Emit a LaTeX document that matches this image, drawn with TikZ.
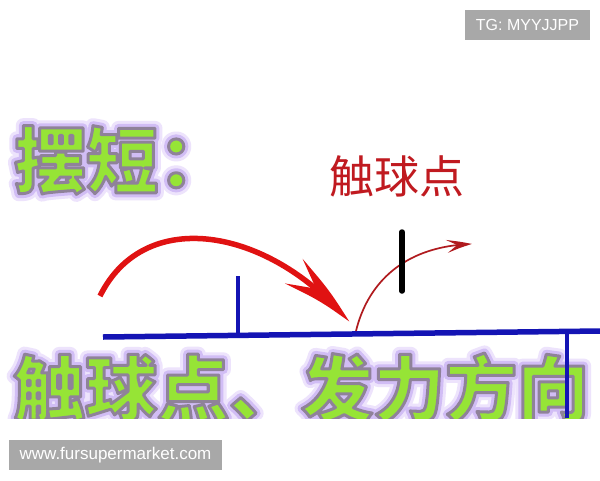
\documentclass[tikz,border=0pt]{standalone}
\usepackage{fontspec}
\setsansfont{Liberation Sans}
\newfontfamily\cjk{Noto Sans CJK SC}
\usetikzlibrary{arrows.meta,bending}
\definecolor{greenc}{HTML}{96E436}
\definecolor{glowc}{HTML}{D2BCF4}
\definecolor{glowout}{HTML}{EEE4FC}
\definecolor{tableblue}{HTML}{1414B4}
\definecolor{arcred}{HTML}{E01212}
\definecolor{thinred}{HTML}{B01A1E}
\definecolor{labelred}{HTML}{C01A20}
\definecolor{wmgray}{HTML}{A8A8A8}
% outlined text via text rendering mode 2 (fill + stroke)
\newcommand\strokedtext[3]{% stroke rgb, width, text
  \special{pdf:code 2 Tr #2 w 1 j #1 RG}#3\special{pdf:code 0 Tr 1 w 0 0 0 RG}}
\newcommand\glowtext[4]{% name, x, y, text
  \node[bigtext, text=glowout] (#1halo) at (#2,#3) {\strokedtext{0.93 0.89 0.99}{15}{#4}};
  \node[bigtext, text=glowc] (#1glow) at (#2,#3) {\strokedtext{0.82 0.74 0.96}{9}{#4}};
  \node[bigtext, text=greenc] (#1) at (#2,#3) {\strokedtext{0.56 0.51 0.60}{3}{#4}};
}
\begin{document}
\begin{tikzpicture}[x=1pt,y=-1pt,
  bigtext/.style={font=\cjk\bfseries\fontsize{72}{72}\selectfont, inner sep=0pt, anchor=west},
  wm/.style={fill=wmgray, text=white, inner sep=0pt},
  tableline/.style={draw=tableblue, line width=5.5pt},
  bigarrow/.style={draw=arcred, line width=5.5pt, -{Stealth[length=78pt,width=30pt,inset=30pt,bend]}},
  thinarrow/.style={draw=thinred, line width=1.7pt, -{Stealth[length=26pt,width=13pt,inset=11pt,bend]}}]
\useasboundingbox (0,0) rectangle (600,480);
\fill[white] (0,0) rectangle (600,480);
% title
\glowtext{title}{14}{160}{摆短：}
% label
\node[font=\cjk\fontsize{45}{45}\selectfont, text=labelred, inner sep=0pt, anchor=west] (lbl) at (329,176) {触球点};
% table
\coordinate (tl) at (103,337);
\coordinate (tr) at (600,331);
\draw[tableline] (tl) -- (tr);
\coordinate (nettop) at (238,276);
\coordinate (netbot) at (238,335);
\draw[draw=tableblue, line width=4pt] (nettop) -- (netbot);
% big arc
\coordinate (a1) at (100,296);
\coordinate (a2) at (349,322);
\draw[bigarrow] (a1) .. controls (145,205) and (270,228) .. (a2);
% thin arc
\coordinate (b1) at (356,331);
\coordinate (b2) at (472,244);
\draw[thinarrow] (b1) .. controls (368,282) and (405,246) .. (b2);
% racket
\coordinate (r1) at (402,232);
\coordinate (r2) at (402,291);
\draw[line width=5.5pt, line cap=round] (r1) -- (r2);
% bottom text
\begin{scope}
\clip (0,0) rectangle (600,418);
\glowtext{bottom}{13}{388}{触球点、发力方向}
\end{scope}
\coordinate (e1) at (567,333);
\coordinate (e2) at (567,418);
\draw[draw=tableblue, line width=4pt] (e1) -- (e2);
% watermarks
\node[wm, font=\sffamily\fontsize{16}{16}\selectfont, minimum width=125pt, minimum height=30pt] (tg) at (527.5,25) {TG: MYYJJPP};
\node[wm, font=\sffamily\fontsize{17}{17}\selectfont, minimum width=213pt, minimum height=30pt] (www) at (115.5,455) {www.fursupermarket.com};
\end{tikzpicture}
\end{document}
